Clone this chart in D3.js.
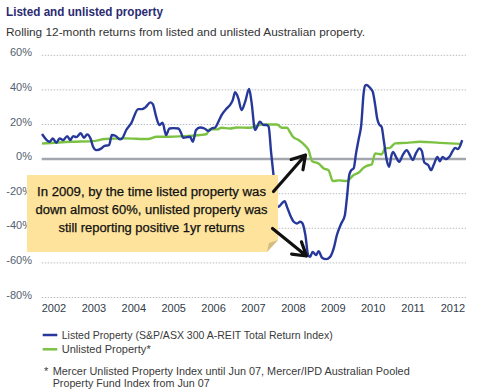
<!DOCTYPE html>
<html><head><meta charset="utf-8">
<script src="https://cdn.jsdelivr.net/npm/d3@7"></script>
<style>
html,body{margin:0;padding:0;background:#fff;}
svg{display:block;}
text{font-family:"Liberation Sans",Arial,sans-serif;}
</style></head>
<body>
<svg id="chart" width="482" height="392"></svg>
<script>
// ---- data (dates in decimal years, values in %) ----
const listedDates = [2002.20,2002.39,2002.47,2002.56,2002.64,2002.73,2002.83,2002.91,2002.98,2003.06,2003.17,2003.25,2003.33,2003.42,2003.48,2003.56,2003.69,2003.77,2003.88,2003.95,2004.04,2004.15,2004.21,2004.31,2004.44,2004.61,2004.71,2004.79,2004.92,2004.98,2005.06,2005.14,2005.22,2005.31,2005.39,2005.49,2005.62,2005.68,2005.74,2005.84,2005.91,2005.98,2006.06,2006.16,2006.27,2006.37,2006.45,2006.54,2006.62,2006.70,2006.83,2006.91,2006.98,2007.04,2007.12,2007.20,2007.29,2007.39,2007.45,2007.54,2007.66,2007.75,2007.83,2007.88,2007.94,2008.01,2008.06,2008.13,2008.21,2008.28,2008.34,2008.42,2008.51,2008.59,2008.67,2008.73,2008.80,2008.87,2008.92,2008.98,2009.07,2009.13,2009.22,2009.32,2009.42,2009.51,2009.59,2009.70,2009.79,2009.84,2009.90,2009.95,2010.01,2010.07,2010.14,2010.20,2010.26,2010.30,2010.34,2010.42,2010.49,2010.55,2010.60,2010.65,2010.71,2010.77,2010.84,2010.90,2010.96,2011.00,2011.07,2011.15,2011.24,2011.34,2011.42,2011.49,2011.57,2011.66,2011.72,2011.78,2011.88,2011.95,2012.02,2012.11,2012.17,2012.24,2012.32,2012.41,2012.49,2012.55,2012.62,2012.68,2012.73];
const listedValues = [14.5,10,12,9.4,12,11,13.3,11,13.3,12.7,14.9,12.3,14.3,11.6,7.1,5.2,6.2,7.7,8.1,13.9,13.5,11.4,12,16.8,21,28.9,28.9,29.9,32.8,31.6,24.5,19.7,21,13.9,17.7,17.9,17.7,15.4,12.3,12.7,12.9,10,16.8,18.3,17.7,16.2,17.7,18.3,21.6,25.4,29.3,31.2,34.1,38.6,35.1,28.3,33.1,40.5,33.1,16.8,21.6,19.7,19.7,18.7,4.2,-11.2,-22.7,-27.6,-25.6,-24.3,-27.6,-32.4,-36.2,-37.2,-36.2,-37.2,-43.9,-55.5,-56.5,-53.6,-55.5,-53.2,-57,-57.8,-56.5,-51.6,-43.9,-37.2,-32.4,-22.7,-9.2,-6.4,-5.4,3.3,12,19.7,38,42.5,42.8,41.2,38.9,31.2,23.5,20,18.7,10,-0.6,-4.4,2.3,4.2,1.3,-1.6,2.3,5.2,2.3,-0.6,3.3,6.2,4.6,-1.9,-3.5,-6.4,-3.1,1.3,-1.2,1.3,0,1.3,4.6,6.5,5.8,7.7,11];

const unlistedDates = [2002.20,2002.93,2003.48,2003.77,2004.27,2004.86,2005.07,2005.41,2005.74,2006.16,2006.33,2006.39,2006.58,2006.70,2006.91,2007.08,2007.41,2007.58,2007.71,2008.09,2008.21,2008.34,2008.41,2008.49,2008.63,2008.78,2008.88,2008.97,2009.13,2009.26,2009.38,2009.49,2009.64,2009.84,2010.01,2010.14,2010.26,2010.34,2010.46,2010.55,2010.71,2010.80,2010.92,2011.05,2011.34,2011.67,2012.17,2012.68];
const unlistedValues = [9,10,10.4,11.6,12,11.6,12.9,12.9,13.3,13.9,14.5,17.2,17.2,18.1,17.7,18.3,18.1,19.2,20,20,18.1,18.1,15.8,12.9,11,8.1,5.2,-1.2,-2.5,-5.4,-6.4,-12.7,-12.3,-12.7,-9.2,-7.7,-5,-3.9,-3.1,3.3,2.7,6.2,6.5,9.1,9.4,10,9.4,8.8];

const yearLabels = ["2002","2003","2004","2005","2006","2007","2008","2009","2010","2011","2012"];
const yTicks = [60,40,20,0,-20,-40,-60,-80];

const title = "Listed and unlisted property";
const subtitle = "Rolling 12-month returns from listed and unlisted Australian property.";
const legendLabels = ["Listed Property (S&P/ASX 300 A-REIT Total Return Index)","Unlisted Property*"];
const footnote = ["Mercer Unlisted Property Index until Jun 07,  Mercer/IPD Australian Pooled","Property Fund Index from Jun 07"];
const noteLines = ["In 2009, by the time listed property was","down almost 60%, unlisted property was","still reporting positive 1yr returns"];

// ---- chart ----
const svg = d3.select("#chart");
const BLUE = "#26389a", GREEN = "#7cc242";

const x = d3.scaleLinear().domain([2002, 2013]).range([34.05, 472.95]);
const y = d3.scaleLinear().domain([-80, 60]).range([297.5, 55.3]);
const gridX0 = 41.7, gridX1 = 466;

function fit(sel, w){ sel.attr("textLength",w).attr("lengthAdjust","spacingAndGlyphs"); return sel; }

fit(svg.append("text").attr("x",6).attr("y",15.5)
  .attr("font-size",12.3).attr("font-weight","bold").attr("fill","#2b2b72")
  .text(title), 157);
fit(svg.append("text").attr("x",6).attr("y",36)
  .attr("font-size",11.8).attr("fill","#333")
  .text(subtitle), 359);

// gridlines
svg.append("g").selectAll("line").data(yTicks.filter(d=>d!==0)).join("line")
  .attr("x1",gridX0).attr("x2",gridX1)
  .attr("y1",d=>y(d)).attr("y2",d=>y(d))
  .attr("stroke","#b8bcc2").attr("stroke-width",1).attr("stroke-dasharray","1.5,1.5");
svg.append("line").attr("x1",gridX0).attr("x2",gridX1)
  .attr("y1",y(0)).attr("y2",y(0)).attr("stroke","#a3a7ad").attr("stroke-width",2.5);

// y labels
svg.append("g").selectAll("text").data(yTicks).join("text")
  .attr("x",32).attr("y",d=>y(d)+1)
  .attr("text-anchor","end").attr("font-size",11).attr("fill","#556070")
  .text(d=>d+"%");

// x labels
svg.append("g").selectAll("text").data(yearLabels).join("text")
  .attr("x",d=>x(+d+0.5)).attr("y",312)
  .attr("text-anchor","middle").attr("font-size",11).attr("fill","#333c48")
  .text(d=>d);

const line = d3.line().x(d=>x(d[0])).y(d=>y(d[1])).curve(d3.curveMonotoneX);
const unlisted = unlistedDates.map((d,i)=>[d,unlistedValues[i]]);
const listed = listedDates.map((d,i)=>[d,listedValues[i]]);
svg.append("path").datum(unlisted).attr("d",line)
  .attr("fill","none").attr("stroke",GREEN).attr("stroke-width",2.4).attr("stroke-linejoin","round");
svg.append("path").datum(listed).attr("d",line)
  .attr("fill","none").attr("stroke",BLUE).attr("stroke-width",2.4).attr("stroke-linejoin","round");

// annotation note
const note = svg.append("g");
note.append("path").attr("d","M27,175 L278,175 L278,240 L267,252 L27,252 Z").attr("fill","#fde39c");
note.append("path").attr("d","M267,252 L278,240 L269,243 Z").attr("fill","#d3bb84");
noteLines.forEach((t,i)=>{
  fit(note.append("text").attr("x",151.5).attr("y",196+i*18)
    .attr("text-anchor","middle").attr("font-size",12.5)
    .attr("font-family","'DejaVu Sans Condensed','DejaVu Sans',sans-serif")
    .attr("fill","#111").attr("stroke","#111").attr("stroke-width",0.25)
    .text(t), [229,232,186][i]);
});
function arrow(x1,y1,x2,y2){
  const a = Math.atan2(y2-y1,x2-x1), L = 15, s = 0.55;
  const p = `M${x1},${y1} L${x2},${y2} M${x2-L*Math.cos(a-s)},${y2-L*Math.sin(a-s)} L${x2},${y2} L${x2-L*Math.cos(a+s)},${y2-L*Math.sin(a+s)}`;
  svg.append("path").attr("d",p).attr("fill","none").attr("stroke","#111")
    .attr("stroke-width",3.2).attr("stroke-linecap","round").attr("stroke-linejoin","round");
}
arrow(273.5,191.5,305.5,155);
arrow(272.5,228.5,306.5,256);

// legend
const legColors = [BLUE, GREEN];
const legW = [271, 89];
legendLabels.forEach((t,i)=>{
  const ly = 335 + i*14.3;
  svg.append("line").attr("x1",42.7).attr("x2",57.3).attr("y1",ly).attr("y2",ly)
    .attr("stroke",legColors[i]).attr("stroke-width",2.5);
  fit(svg.append("text").attr("x",61.7).attr("y",ly+4).attr("font-size",10.8).attr("fill","#3a3a3a").text(t), legW[i]);
});
svg.append("text").attr("x",44).attr("y",375).attr("font-size",11).attr("fill","#3a3a3a").text("*");
const footW = [357, 157];
footnote.forEach((t,i)=>{
  fit(svg.append("text").attr("x",52.7).attr("y",375+i*12).attr("font-size",10.8).attr("fill","#3a3a3a").text(t), footW[i]);
});
</script>
</body></html>
